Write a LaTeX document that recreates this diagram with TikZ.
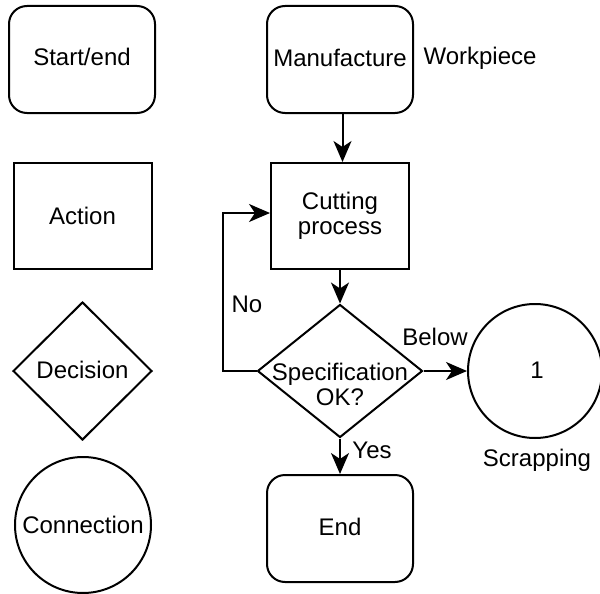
\documentclass[tikz,border=0pt]{standalone}
\usepackage{fontspec}
\setmainfont{Liberation Sans}
\usetikzlibrary{arrows.meta,shapes.geometric}
\begin{document}
\begin{tikzpicture}[x=1pt,y=-1pt,
  font=\fontsize{24}{25}\selectfont,
  line width=2pt,
  every node/.style={inner sep=0pt, align=center},
  terminal/.style={draw, rounded corners=18pt, minimum width=146pt, minimum height=107pt},
  actionbox/.style={draw, minimum width=138pt, minimum height=106pt},
  decisionbox/.style={draw, diamond, minimum width=139pt, minimum height=138pt},
  connector/.style={draw, circle, minimum size=136pt},
  arr/.style={-{Stealth[length=21pt,width=18pt,inset=6pt]}}]
  \useasboundingbox (0,0) rectangle (600,594);

  % legend of symbols
  \node[terminal] (kstart) at (82,59.5) {};
  \node (kstartt) at (82,57) {Start/end};
  \node[actionbox] (kact) at (82.5,216) {Action};
  \node[decisionbox] (kdec) at (82.5,371) {};
  \node (kdect) at (82.5,370) {Decision};
  \node[connector] (kcon) at (83,525) {};
  \node (kcont) at (83,525) {Connection};

  % process flow
  \node[terminal] (manu) at (340,59.5) {};
  \node (manut) at (340,58) {Manufacture};
  \node (work) at (480,58) {Workpiece};
  \node[actionbox] (cut) at (340,216) {Cutting\\process};
  \node[draw, diamond, minimum width=165pt, minimum height=133pt] (dec) at (340,371) {};
  \node (dect) at (340,384) {Specification\\OK?};
  \node[draw, circle, minimum size=134pt] (scrap) at (535,371) {};
  \node (scrapt) at (537,370) {1};
  \node (scrapl) at (537,460) {Scrapping};
  \node[terminal] (fin) at (340,528.5) {};
  \node (fint) at (340,527) {End};

  % connectors
  \draw[arr] ([xshift=2.5pt]manu.south) -- ([xshift=2.5pt]cut.north);
  \draw[arr] (cut.south) -- (dec.north);
  \draw[arr] (dec.south) -- (fin.north);
  \draw[arr] (dec.east) -- (scrap.west);
  \coordinate (loop) at (223,213);
  \draw[arr] (dec.west) -| (loop) -- (loop -| cut.west);

  % branch labels
  \node (no) at (247,304) {No};
  \node (below) at (435,337) {Below};
  \node (yes) at (372,450) {Yes};
\end{tikzpicture}
\end{document}
